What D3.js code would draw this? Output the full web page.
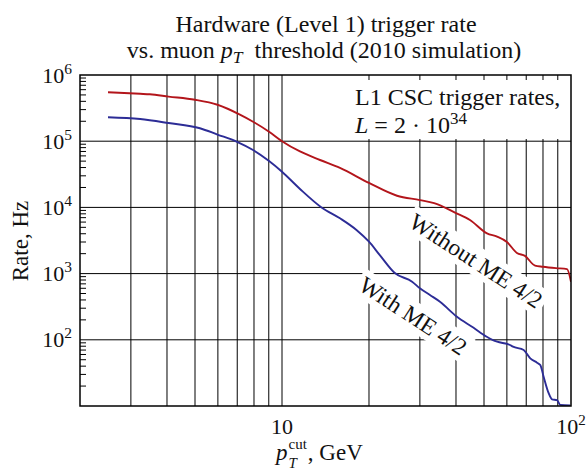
<!DOCTYPE html>
<html><head><meta charset="utf-8">
<script src="https://cdn.jsdelivr.net/npm/d3@7"></script>
<style>
html,body{margin:0;padding:0;background:#fff;}
svg{display:block;font-family:"Liberation Serif","DejaVu Serif",serif;}
</style></head>
<body>
<svg id="chart" width="587" height="470"></svg>
<script>
// ---- data ----
const redX  = [2.5, 3.23, 3.49, 4.05, 5.0, 5.98, 7.15, 7.94, 9.02, 10, 11.54, 13.54, 15.87, 20, 25, 30, 33.6, 40, 44.7, 51.2, 55.5, 60, 65, 69.3, 75.1, 80, 88.7, 96.9, 100];
const redY  = [548000, 520000, 511000, 472000, 422000, 355000, 252000, 197000, 139000, 100000, 70000, 52000, 39400, 23400, 15000, 12900, 11600, 8200, 6450, 4060, 3610, 3000, 2050, 1850, 1320, 1270, 1210, 1170, 755];
const blueX = [2.5, 3.23, 4.05, 5.2, 5.98, 6.99, 7.94, 9.02, 10, 11.54, 13.7, 15.87, 18.1, 20, 21.8, 24.5, 28.2, 30, 32.5, 35.2, 40.2, 45.9, 51.1, 53.7, 55.5, 61.5, 63, 68.6, 72.3, 76.3, 78.3, 80.4, 83.7, 86, 89.4, 91.8, 99.4];
const blueY = [230000, 216000, 188000, 157000, 126000, 98000, 73600, 50200, 34600, 19000, 10000, 6840, 4560, 3030, 1900, 1030, 755, 600, 475, 376, 225, 153, 111, 99, 93.6, 83.5, 78.7, 70.1, 52.5, 45.1, 41.6, 27.7, 15.6, 12.6, 12.3, 10.4, 10.2];
const xGridVals = [3, 4, 5, 6, 7, 8, 9, 10, 20, 30, 40, 50, 60, 70, 80, 90];
const yGridVals = [1e2, 1e3, 1e4, 1e5];
const yTickExps = [2, 3, 4, 5, 6];
const xTickVals = [10, 100];
const xTickBase = ["10", "10"];
const xTickExp  = ["", "2"];
const titleLine1 = "Hardware (Level 1) trigger rate";
const labelWithout = "Without ME 4/2";
const labelWith = "With ME 4/2";

// ---- layout ----
const svg = d3.select("#chart");
const L = 80, R = 571, T = 75, B = 406;
const x = d3.scaleLog().domain([2, 100]).range([L, R]);
const y = d3.scaleLog().domain([10, 1e6]).range([B, T]);
const redC = "#b3151b", blueC = "#2c2c96";

svg.append("rect").attr("width", 587).attr("height", 470).attr("fill", "#fff");

// title
const tt = svg.append("g").attr("font-size", 24).attr("text-anchor", "middle").attr("fill", "#111");
tt.append("text").attr("x", 326).attr("y", 31.5).text(titleLine1);
const t2 = tt.append("text").attr("x", 324).attr("y", 58);
t2.append("tspan").text("vs. muon ");
t2.append("tspan").attr("font-style", "italic").text("p");
t2.append("tspan").attr("font-style", "italic").attr("font-size", 17.5).attr("dy", 5).text("T");
t2.append("tspan").attr("dy", -5).text("\u2002threshold (2010 simulation)");

// grid
const grid = svg.append("g").attr("stroke", "#000").attr("stroke-width", 1);
grid.selectAll("line.v").data(xGridVals).join("line").attr("class", "v")
  .attr("x1", d => x(d)).attr("x2", d => x(d)).attr("y1", T).attr("y2", B);
grid.selectAll("line.h").data(yGridVals).join("line").attr("class", "h")
  .attr("x1", L).attr("x2", R).attr("y1", d => y(d)).attr("y2", d => y(d));

// minor ticks on left axis
const minor = [];
for (let k = 1; k <= 5; k++) for (let m = 2; m <= 9; m++) minor.push(m * Math.pow(10, k));
svg.append("g").attr("stroke", "#000").attr("stroke-width", 1)
  .selectAll("line").data(minor).join("line")
  .attr("x1", L).attr("x2", L + 6).attr("y1", d => y(d)).attr("y2", d => y(d));

// white background box for the annotation
svg.append("rect").attr("x", 346).attr("y", 80).attr("width", R - 346 - 1).attr("height", 59).attr("fill", "#fff");

// rotated label backgrounds
const labels = [
  {text: labelWithout, cx: 476, cy: 261},
  {text: labelWith, cx: 413, cy: 316}
];
const lg = svg.append("g");
const labelGroups = labels.map(d => {
  const g = lg.append("g").attr("transform", `translate(${d.cx},${d.cy}) rotate(33)`);
  const bg = g.append("rect").attr("fill", "#fff");
  const tx = g.append("text").attr("font-size", 23.5).attr("text-anchor", "middle").attr("dy", "0.33em").attr("fill", "#111").text(d.text);
  const bb = tx.node().getBBox();
  bg.attr("x", bb.x - 4).attr("y", bb.y - 1).attr("width", bb.width + 8).attr("height", bb.height + 2);
  return g;
});

// curves
svg.append("clipPath").attr("id", "clip").append("rect")
  .attr("x", L).attr("y", T).attr("width", R - L).attr("height", B - T);
const line = d3.line().x(d => x(d[0])).y(d => y(d[1])).curve(d3.curveMonotoneX);
const cg = svg.append("g").attr("clip-path", "url(#clip)");
cg.append("path").datum(d3.zip(redX, redY)).attr("d", line).attr("fill", "none").attr("stroke", redC).attr("stroke-width", 1.9);
cg.append("path").datum(d3.zip(blueX, blueY)).attr("d", line).attr("fill", "none").attr("stroke", blueC).attr("stroke-width", 1.9);

// bring label texts on top
labelGroups.forEach(g => g.raise());

// frame
svg.append("rect").attr("x", L).attr("y", T).attr("width", R - L).attr("height", B - T)
  .attr("fill", "none").attr("stroke", "#000").attr("stroke-width", 1.5);

// y tick labels
const yl = svg.append("g").attr("font-size", 22).attr("fill", "#111");
yTickExps.forEach(e => {
  const t = yl.append("text").attr("x", 72).attr("y", y(Math.pow(10, e)) + 7.5).attr("text-anchor", "end");
  t.append("tspan").text("10");
  t.append("tspan").attr("font-size", 15.5).attr("dy", -9).text(e);
});

// x tick labels (whole label centred on its tick)
const xl = svg.append("g").attr("font-size", 22).attr("fill", "#111");
xTickVals.forEach((v, i) => {
  const t = xl.append("text").attr("x", x(v)).attr("y", 433.5).attr("text-anchor", "middle");
  t.append("tspan").text(xTickBase[i]);
  if (xTickExp[i]) t.append("tspan").attr("font-size", 15).attr("dy", -9).text(xTickExp[i]);
});

// y axis title
svg.append("text").attr("transform", "translate(28,241) rotate(-90)").attr("text-anchor", "middle")
  .attr("font-size", 23).attr("fill", "#111").text("Rate, Hz");

// x axis title  p_T^cut, GeV  (one text element, stacked sub/superscript)
const xa = svg.append("text").attr("x", 276).attr("y", 460).attr("font-size", 23).attr("fill", "#111");
const tp = xa.append("tspan").attr("font-style", "italic").text("p");
const pw = tp.node().getComputedTextLength();
const sx = 276 + pw + 1;
const tsub = xa.append("tspan").attr("x", sx).attr("dy", 7.5).attr("font-size", 15).attr("font-style", "italic").text("T");
const tsup = xa.append("tspan").attr("x", sx).attr("dy", -19).attr("font-size", 15).text("cut");
const ew = Math.max(tsub.node().getComputedTextLength(), tsup.node().getComputedTextLength());
xa.append("tspan").attr("x", sx + ew + 1).attr("dy", 11.5).text(", GeV");

// annotation
const an = svg.append("g").attr("font-size", 24).attr("fill", "#111");
an.append("text").attr("x", 355).attr("y", 105).text("L1 CSC trigger rates,");
const a2 = an.append("text").attr("x", 355).attr("y", 133);
a2.append("tspan").attr("font-style", "italic").text("L");
a2.append("tspan").text(" = 2 \u00b7 10");
a2.append("tspan").attr("font-size", 17).attr("dy", -9).text("34");
</script>
</body></html>
